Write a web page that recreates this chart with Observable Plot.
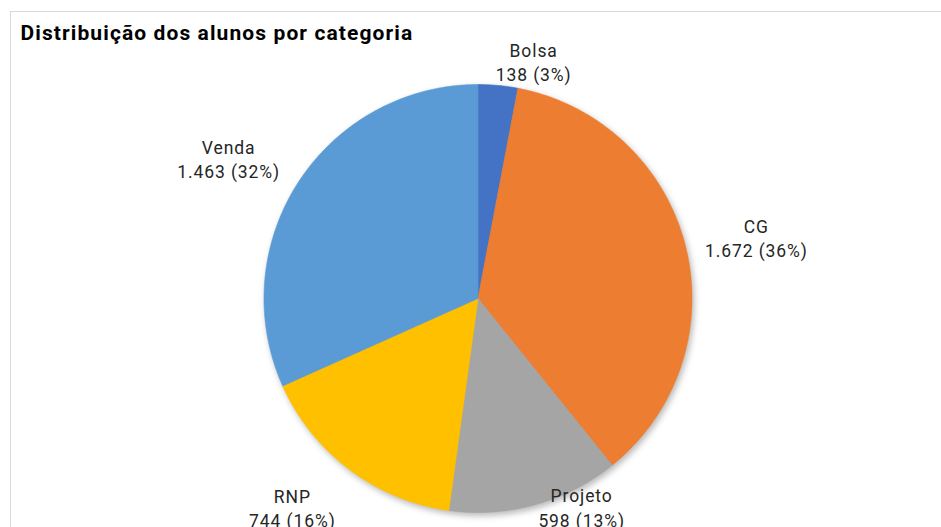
<!DOCTYPE html>
<html>
<head>
<meta charset="utf-8">
<script src="https://cdn.jsdelivr.net/npm/d3@7"></script>
<script src="https://cdn.jsdelivr.net/npm/@observablehq/plot@0.6"></script>
<style>
  html, body { margin: 0; padding: 0; background: #fff; }
  #wrap { position: relative; width: 941px; height: 527px; overflow: hidden; }
  #frame { position: absolute; left: 10px; top: 11px; width: 1000px; height: 600px; border: 1.5px solid #d9d9d9; box-sizing: border-box; }
  #chart { position: absolute; left: 0; top: 0; }
</style>
</head>
<body>
<div id="wrap"><div id="frame"></div><div id="chart"></div></div>
<script>
const title = "Distribuição dos alunos por categoria";
const categories = ["Bolsa", "CG", "Projeto", "RNP", "Venda"];
const values = [138, 1672, 598, 744, 1463];
const colors = ["#4472C4", "#ED7D31", "#A5A5A5", "#FFC000", "#5B9BD5"];

// label placement (layout, not data): angle nudge in degrees from slice mid-angle, radius factor
const labelNudge = [7.8, 1.6, -11, 4.8, -3.6];
const labelRadius = [1.14, 1.332, 1.086, 1.305, 1.337];

const total = d3.sum(values);
const fmt = v => v.toLocaleString("pt-BR");

const slicePts = [];
const labels = [];
let cum = 0;
categories.forEach((c, i) => {
  const a0 = cum / total * 2 * Math.PI;
  cum += values[i];
  const a1 = cum / total * 2 * Math.PI;
  slicePts.push({cat: c, x: 0, y: 0});
  const n = Math.max(2, Math.ceil((a1 - a0) / (Math.PI / 360)));
  for (let k = 0; k <= n; k++) {
    const a = a0 + (a1 - a0) * k / n;
    slicePts.push({cat: c, x: Math.sin(a), y: Math.cos(a)});
  }
  slicePts.push({cat: c, x: 0, y: 0});
  const am = (a0 + a1) / 2 + labelNudge[i] * Math.PI / 180;
  const pct = Math.round(values[i] / total * 100);
  labels.push({
    cat: c,
    x: Math.sin(am) * labelRadius[i],
    y: Math.cos(am) * labelRadius[i],
    text: `${c}\n${fmt(values[i])} (${pct}%)`
  });
});

const chart = Plot.plot({
  width: 941,
  height: 527,
  margin: 0,
  style: {fontFamily: "Roboto, sans-serif", background: "transparent", overflow: "visible"},
  x: {domain: [-1, 1], range: [263.5, 691.5], axis: null},
  y: {domain: [-1, 1], range: [512, 84], axis: null},
  color: {domain: categories, range: colors},
  marks: [
    Plot.line(slicePts, {x: "x", y: "y", z: "cat", fill: "cat", stroke: "cat", strokeWidth: 0.6, curve: "linear"}),
    Plot.text(labels, {x: "x", y: "y", text: "text", fontSize: 17.5, fill: "#262626", lineHeight: 1.4, textAnchor: "middle"}),
    Plot.text([title], {frameAnchor: "top-left", dx: 20, dy: 25, fontSize: 21, fontWeight: "bold", fill: "#000", textAnchor: "start"})
  ]
});
document.getElementById("chart").appendChild(chart);
const g = chart.querySelector('g[aria-label="line"]');
if (g) g.style.filter = "drop-shadow(2px 3px 3px rgba(0,0,0,0.28))";
const tg = chart.querySelectorAll('g[aria-label="text"]');
if (tg[0]) tg[0].style.letterSpacing = "0.9px";
if (tg[1]) tg[1].style.letterSpacing = "1.1px";
</script>
</body>
</html>
